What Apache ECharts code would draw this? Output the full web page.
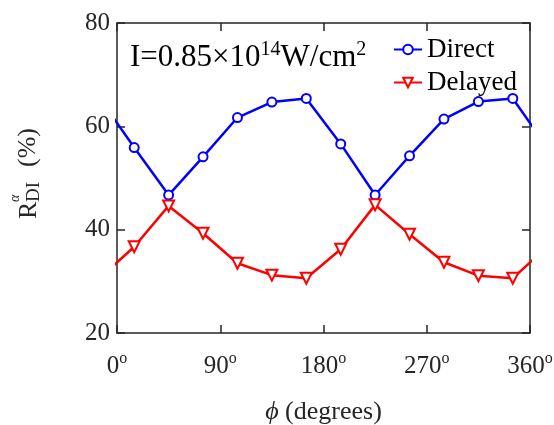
<!DOCTYPE html>
<html><head><meta charset="utf-8">
<script src="https://cdn.jsdelivr.net/npm/echarts@6/dist/echarts.min.js"></script>
<style>html,body{margin:0;padding:0;background:#fff}#c{width:554px;height:425px}</style>
</head><body><div id="c"></div>
<script>
// phase angle (degrees); points beyond 0..360 are clipped by the axis, as in the original
const phi = [-15, 15, 45, 75, 105, 135, 165, 195, 225, 255, 285, 315, 345, 375];
const direct = [65.4, 55.9, 46.7, 54.1, 61.7, 64.7, 65.4, 56.6, 46.7, 54.3, 61.4, 64.8, 65.4, 55.9];
const delayed = [30.6, 36.7, 44.6, 39.3, 33.5, 31.2, 30.6, 36.2, 44.8, 39.1, 33.7, 31.1, 30.6, 36.7];
const seriesNames = ['Direct', 'Delayed'];
const xRange = [0, 360], xStep = 90;
const yRange = [20, 80], yStep = 20;

const FONT = '"Liberation Serif", "Times New Roman", serif';
const INK = '#262626';
const chart = echarts.init(document.getElementById('c'), null, {renderer: 'canvas'});

function axisLine() { return {show: true, onZero: false, lineStyle: {color: INK, width: 1.5}}; }
function axisTick() { return {show: true, inside: true, length: 8, lineStyle: {color: INK, width: 1.5}}; }
function pairs(ys) { return phi.map((x, i) => [x, ys[i]]); }

function txt(x, y, text, size, extra) {
  return {type: 'text', x: x, y: y, style: Object.assign({
    text: text, fontFamily: FONT, fontSize: size, fill: INK,
    textAlign: 'left', textVerticalAlign: 'middle', align: 'left', verticalAlign: 'middle'
  }, extra || {})};
}

chart.setOption({
  animation: false,
  backgroundColor: '#fff',
  grid: {left: 117, right: 24, top: 23, bottom: 92, containLabel: false, outerBoundsMode: 'none'},
  xAxis: [{
    type: 'value', min: xRange[0], max: xRange[1], interval: xStep, position: 'bottom',
    axisLine: axisLine(), axisTick: axisTick(), splitLine: {show: false},
    axisLabel: {
      margin: 18, color: INK, fontFamily: FONT, fontSize: 25,
      formatter: v => v + '{s|o}',
      rich: {s: {fontFamily: FONT, fontSize: 16, color: INK, verticalAlign: 'top', lineHeight: 30}}
    },
    name: '{i|ϕ} (degrees)', nameLocation: 'middle', nameGap: 66,
    nameTextStyle: {fontFamily: FONT, fontSize: 26, color: INK,
      rich: {i: {fontFamily: FONT, fontStyle: 'italic', fontSize: 26, color: INK}}}
  }, {
    type: 'value', min: xRange[0], max: xRange[1], interval: xStep, position: 'top',
    axisLine: axisLine(), axisTick: axisTick(), axisLabel: {show: false}, splitLine: {show: false}
  }],
  yAxis: [{
    type: 'value', min: yRange[0], max: yRange[1], interval: yStep, position: 'left',
    axisLine: axisLine(), axisTick: axisTick(), splitLine: {show: false},
    axisLabel: {margin: 7, color: INK, fontFamily: FONT, fontSize: 25}
  }, {
    type: 'value', min: yRange[0], max: yRange[1], interval: yStep, position: 'right',
    axisLine: axisLine(), axisTick: axisTick(), axisLabel: {show: false}, splitLine: {show: false}
  }],
  legend: {
    orient: 'vertical', left: 393, top: 36, padding: 0, itemWidth: 28, itemHeight: 12, itemGap: 6,
    textStyle: {fontFamily: FONT, fontSize: 27, color: '#000', lineHeight: 26},
    data: seriesNames
  },
  series: [{
    name: seriesNames[0], type: 'line', data: pairs(direct), clip: true,
    symbol: 'emptyCircle', symbolSize: 9,
    lineStyle: {color: '#0000ff', width: 2.5},
    itemStyle: {color: '#0000ff', borderColor: '#0000ff', borderWidth: 2}
  }, {
    name: seriesNames[1], type: 'line', data: pairs(delayed), clip: true,
    symbol: 'emptyTriangle', symbolSize: 11, symbolRotate: 180,
    lineStyle: {color: '#ff0000', width: 2.5},
    itemStyle: {color: '#ff0000', borderColor: '#ff0000', borderWidth: 2.5}
  }],
  graphic: [{
    type: 'text', left: 130, top: 40,
    style: {
      text: 'I=0.85×10{s|14}W/cm{s|2}',
      fontFamily: FONT, fontSize: 31, fill: '#000',
      rich: {s: {fontFamily: FONT, fontSize: 20, fill: '#000', verticalAlign: 'top', lineHeight: 36}}
    }
  }, {
    type: 'group', x: 29, y: 175, rotation: Math.PI / 2,
    children: [
      txt(-44, 0, 'R', 26),
      txt(-27, -14, 'α', 14, {fontStyle: 'italic'}),
      txt(-27, 5, 'DI', 19),
      txt(8, -1, '(%)', 26)
    ]
  }]
});
</script>
</body></html>
